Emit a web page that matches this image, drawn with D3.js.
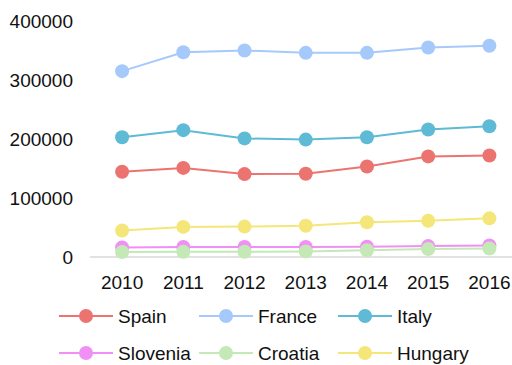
<!DOCTYPE html>
<html>
<head>
<meta charset="utf-8">
<script src="https://cdn.jsdelivr.net/npm/d3@7/dist/d3.min.js"></script>
<style>
  html, body { margin: 0; padding: 0; background: #fff; }
  svg { display: block; font-family: "Liberation Sans", Arial, sans-serif; }
</style>
</head>
<body>
<svg id="chart" width="512" height="365"></svg>
<script>
const years = ["2010", "2011", "2012", "2013", "2014", "2015", "2016"];
const yTicks = [0, 100000, 200000, 300000, 400000];

const spain    = [144500, 151000, 140500, 141000, 153500, 170500, 172000];
const france   = [315000, 347000, 350000, 346000, 346000, 355000, 358000];
const italy    = [203000, 215000, 201000, 199000, 203000, 216000, 221500];
const slovenia = [16000, 17000, 17000, 17000, 17500, 18500, 19500];
const croatia  = [8500, 9000, 9000, 9500, 11500, 13500, 14500];
const hungary  = [45000, 51000, 51500, 53000, 59000, 61500, 65500];

const seriesNames  = ["Spain", "France", "Italy", "Slovenia", "Croatia", "Hungary"];
const seriesColors = ["#ec7470", "#a6c9fb", "#5fbad6", "#f090f5", "#c5e8b7", "#f5e679"];
const seriesValues = [spain, france, italy, slovenia, croatia, hungary];

const FONT = 19;
const svg = d3.select("#chart");

const x = d3.scaleBand().domain(years).range([91.5, 520]);
const y = d3.scaleLinear().domain([0, 400000]).range([257, 21]);

// baseline
svg.append("line")
  .attr("x1", 90).attr("x2", 512)
  .attr("y1", y(0)).attr("y2", y(0))
  .attr("stroke", "#d9d9d9").attr("stroke-width", 1.5);

// y axis labels
const yAxis = d3.axisLeft(y).tickValues(yTicks).tickSize(0).tickPadding(0)
  .tickFormat(d => String(d));
const gy = svg.append("g").attr("transform", "translate(73,0)").call(yAxis);
gy.select(".domain").remove();
gy.selectAll("text")
  .attr("font-size", FONT).attr("fill", "#111")
  .attr("font-family", "Liberation Sans, Arial, sans-serif");

// x axis labels
const xAxis = d3.axisBottom(x).tickSize(0).tickPadding(0);
const gx = svg.append("g").attr("transform", "translate(0,275)").call(xAxis);
gx.select(".domain").remove();
gx.selectAll("text")
  .attr("font-size", FONT).attr("fill", "#111")
  .attr("font-family", "Liberation Sans, Arial, sans-serif");

const line = d3.line()
  .x((d, i) => x(years[i]) + x.bandwidth() / 2)
  .y(d => y(d));

// draw series in order so later series sit on top
seriesValues.forEach((vals, si) => {
  const g = svg.append("g");
  g.append("path")
    .attr("d", line(vals))
    .attr("fill", "none")
    .attr("stroke", seriesColors[si])
    .attr("stroke-width", 2);
  g.selectAll("circle").data(vals).join("circle")
    .attr("cx", (d, i) => x(years[i]) + x.bandwidth() / 2)
    .attr("cy", d => y(d))
    .attr("r", 7)
    .attr("fill", seriesColors[si]);
});

// legend
const legendCols = [59, 199, 338];
const legendRows = [316, 353];
seriesNames.forEach((name, i) => {
  const lx = legendCols[i % 3];
  const ly = legendRows[Math.floor(i / 3)];
  const g = svg.append("g").attr("transform", `translate(${lx},${ly})`);
  g.append("line")
    .attr("x1", 0).attr("x2", 54).attr("y1", 0).attr("y2", 0)
    .attr("stroke", seriesColors[i]).attr("stroke-width", 2);
  g.append("circle").attr("cx", 27).attr("cy", 0).attr("r", 7)
    .attr("fill", seriesColors[i]);
  g.append("text")
    .attr("x", 59).attr("y", 0).attr("dy", "0.35em")
    .attr("font-size", FONT).attr("fill", "#111")
    .text(name);
});
</script>
</body>
</html>
